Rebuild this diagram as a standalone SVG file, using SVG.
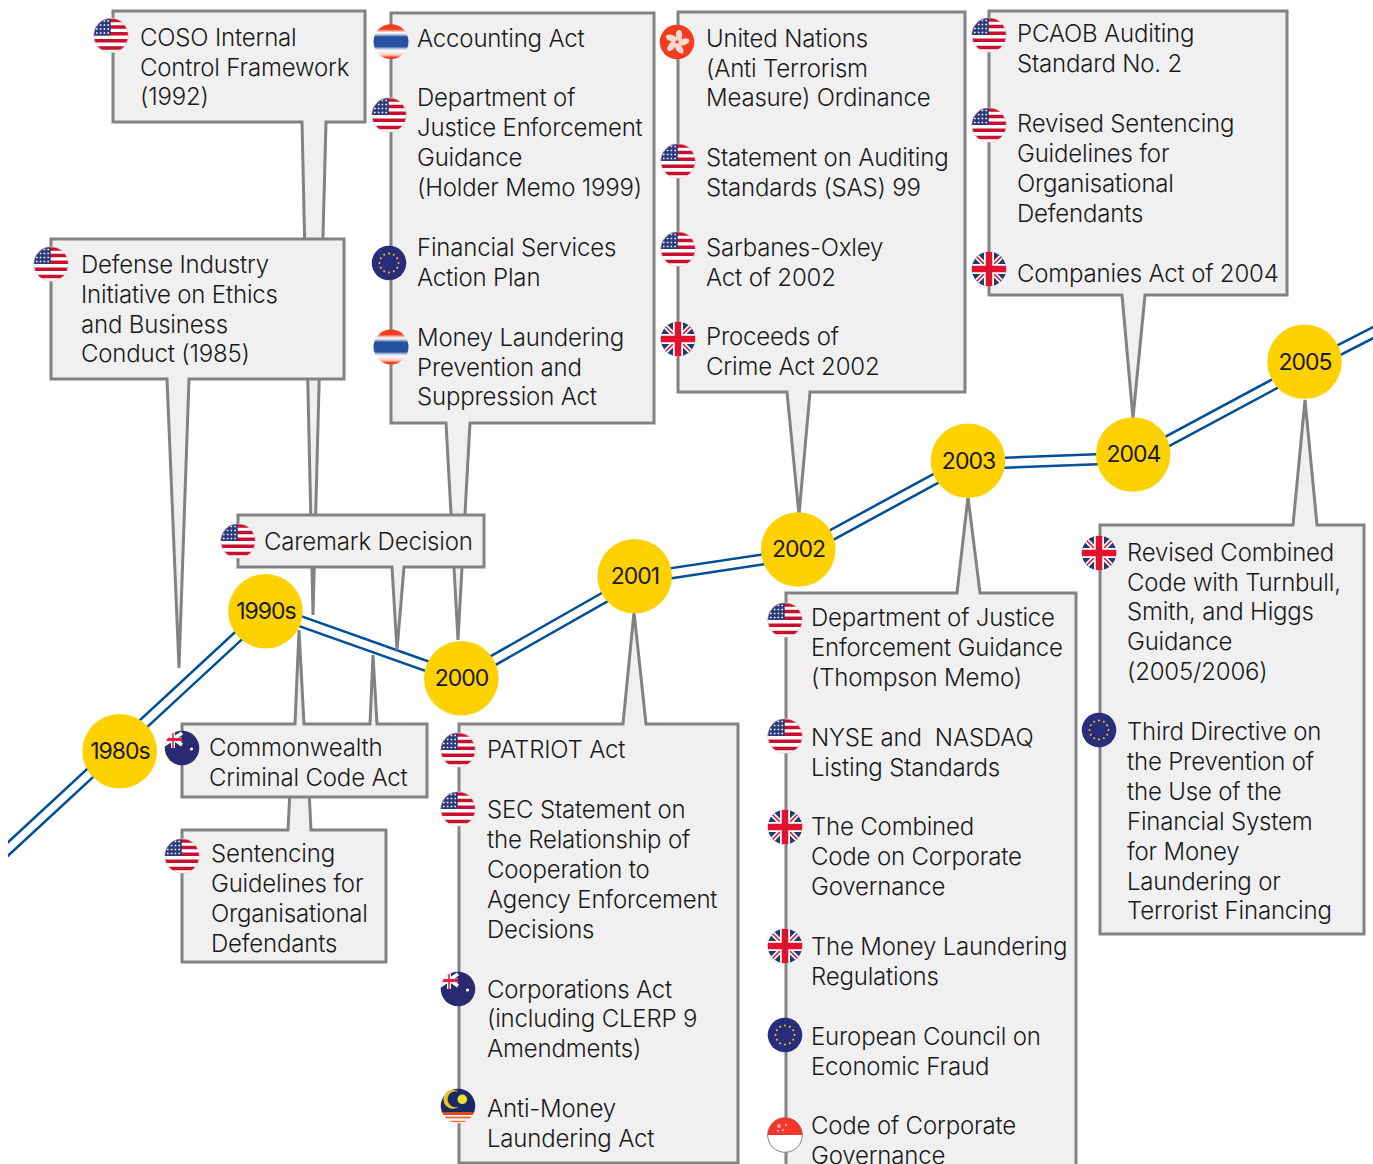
<svg xmlns="http://www.w3.org/2000/svg" width="1373" height="1164" viewBox="0 0 1373 1164">
<style>
.box{fill:#f0f0f0;stroke:#808285;stroke-width:3;stroke-linejoin:miter}
.t{font-family:"Inter","Liberation Sans",sans-serif;font-weight:300;font-size:24px;letter-spacing:-.18px;fill:#1a1a1a}
.yr{font-family:"Inter","Liberation Sans",sans-serif;font-weight:400;font-size:23px;letter-spacing:-1px;fill:#1a1a1a;text-anchor:middle}
.dot{fill:#ffd100}
.out{fill:none;stroke:#004f97;stroke-width:12.5}
.inn{fill:none;stroke:#fff;stroke-width:7.5}
</style>
<defs>
<clipPath id="c"><circle r="17.3"/></clipPath>
<clipPath id="pg"><rect x="8" y="0" width="1365" height="1164"/></clipPath>
<linearGradient id="thg" x1="0" y1="0" x2="0" y2="1"><stop offset="0" stop-color="#f53c1e"/><stop offset=".14" stop-color="#f53c1e"/><stop offset=".24" stop-color="#fff"/><stop offset=".3" stop-color="#b8c8e4"/><stop offset=".36" stop-color="#26529f"/><stop offset=".64" stop-color="#26529f"/><stop offset=".7" stop-color="#b8c8e4"/><stop offset=".76" stop-color="#fff"/><stop offset=".88" stop-color="#fbcabd"/><stop offset=".95" stop-color="#f53c1e"/></linearGradient>
<g id="us"><g clip-path="url(#c)"><rect x="-17.3" y="-17.3" width="34.6" height="34.6" fill="#fff"/>
<path d="M-18-15H18M-18-8.5H18M-18-1.7H18M-18 5.3H18M-18 12.5H18" stroke="#c8102e" stroke-width="3.4"/>
<rect x="-17.3" y="-17.3" width="17" height="17.3" fill="#2a3a7c"/>
<path d="M-15-14.5H0M-15-10.5H0M-15-6.5H0M-15-2.5H0" stroke="#fff" stroke-width="1.6" stroke-dasharray="1.6 2.2"/></g><circle r="17.2" fill="none" stroke="#e8b8c4" stroke-width=".6"/></g>
<g id="uk"><g clip-path="url(#c)"><rect x="-17.3" y="-17.3" width="34.6" height="34.6" fill="#1b3c74"/>
<path d="M-17-17 17 17M17-17-17 17" stroke="#fff" stroke-width="5"/>
<path d="M-17-17 17 17M17-17-17 17" stroke="#e2112d" stroke-width="1.6"/>
<path d="M0-18V18M-18 0H18" stroke="#fff" stroke-width="10"/>
<path d="M0-18V18M-18 0H18" stroke="#e2112d" stroke-width="6.5"/></g></g>
<g id="eu"><circle r="17.3" fill="#2a2e7a"/>
<g fill="#f4d020"><circle cx="0" cy="-9.5" r="1"/><circle cx="4.8" cy="-8.2" r="1"/><circle cx="8.2" cy="-4.8" r="1"/><circle cx="9.5" cy="0" r="1"/><circle cx="8.2" cy="4.8" r="1"/><circle cx="4.8" cy="8.2" r="1"/><circle cx="0" cy="9.5" r="1"/><circle cx="-4.8" cy="8.2" r="1"/><circle cx="-8.2" cy="4.8" r="1"/><circle cx="-9.5" cy="0" r="1"/><circle cx="-8.2" cy="-4.8" r="1"/><circle cx="-4.8" cy="-8.2" r="1"/></g></g>
<g id="th"><circle r="17.5" fill="url(#thg)"/></g>
<g id="hk"><circle r="17.3" fill="#f53c1e"/><g fill="#fbd8d0"><ellipse cx="2" cy="-6.5" rx="3.2" ry="5.8"/><ellipse cx="2" cy="-6.5" rx="3.2" ry="5.8" transform="rotate(72)"/><ellipse cx="2" cy="-6.5" rx="3.2" ry="5.8" transform="rotate(144)"/><ellipse cx="2" cy="-6.5" rx="3.2" ry="5.8" transform="rotate(216)"/><ellipse cx="2" cy="-6.5" rx="3.2" ry="5.8" transform="rotate(288)"/></g></g>
<g id="au"><circle r="17.3" fill="#2a2a72"/><g clip-path="url(#c)"><path d="M-18-16 0-3M-18-3 0-15" stroke="#fff" stroke-width="3.4"/><path d="M-18-8.5H0M-9-18V0" stroke="#fff" stroke-width="4"/><path d="M-18-8.5H0" stroke="#e2213d" stroke-width="2.8"/><path d="M-9-18V0" stroke="#e2213d" stroke-width="1.6"/></g><circle cx="9.5" cy="1" r="1.6" fill="#fff"/></g>
<g id="my"><g clip-path="url(#c)"><rect x="-18" y="-18" width="36" height="24" fill="#1a2a66"/><rect x="-18" y="6" width="36" height="12" fill="#fff"/><path d="M-18 7.5H18" stroke="#d8481c" stroke-width="3"/><path d="M-18 11.5H18" stroke="#f0703c" stroke-width="2.2"/><path d="M-18 15.5H18" stroke="#f0703c" stroke-width="1.6"/></g><path d="M1-14A9.5 9.5 0 1 0 1 .5 8 8 0 1 1 1-14Z" fill="#e5c62a"/><circle cx="4.3" cy="-6.7" r="4.8" fill="#f0de30"/></g>
<g id="sg"><circle r="17.3" fill="#fff" stroke="#808285" stroke-width="1"/><path d="M-17.3 0A17.3 17.3 0 0 1 17.3 0Z" fill="#f5352a"/><g fill="#fbb0a8"><circle cx="-6" cy="-9" r="2"/><circle cx="-2" cy="-5" r="1.2"/><circle cx="1" cy="-10" r="1.2"/><circle cx="-7" cy="-4" r="1.2"/></g></g>
</defs>

<g id="connectors" clip-path="url(#pg)">
<polyline class="out" points="0,856.4 267,609.4 461.5,678.5 638,578.2 796,554.4 961.5,464.4 1136.7,457.8 1304,368 1385,326.5"/>
<polyline class="inn" points="0,856.4 267,609.4 461.5,678.5 638,578.2 796,554.4 961.5,464.4 1136.7,457.8 1304,368 1385,326.5"/>
</g>

<g id="coso"><path class="box" d="M113 11H365V122H326L313 615 302 122H113Z"/><use href="#us" x="111" y="35.500"/>
<text class="t"><tspan x="140" y="46">COSO Internal</tspan><tspan x="140" y="76">Control Framework</tspan><tspan x="140" y="105">(1992)</tspan></text></g>

<g id="accounting"><path class="box" d="M391 13H654V423H470L458 640 446 423H391Z"/><use href="#th" x="391" y="41.700"/><use href="#us" x="389" y="115"/><use href="#eu" x="389" y="263"/><use href="#th" x="391" y="347"/>
<text class="t"><tspan x="417" y="47">Accounting Act</tspan><tspan x="417" y="106">Department of</tspan><tspan x="417" y="136">Justice Enforcement</tspan><tspan x="417" y="166">Guidance</tspan><tspan x="417" y="196">(Holder Memo 1999)</tspan><tspan x="417" y="256">Financial Services</tspan><tspan x="417" y="286">Action Plan</tspan><tspan x="417" y="346">Money Laundering</tspan><tspan x="417" y="376">Prevention and</tspan><tspan x="417" y="405">Suppression Act</tspan></text></g>

<g id="defense"><path class="box" d="M51 239H344V379H189L179 668 167 379H51Z"/><use href="#us" x="51" y="264"/>
<text class="t"><tspan x="81" y="273">Defense Industry</tspan><tspan x="81" y="303">Initiative on Ethics</tspan><tspan x="81" y="333">and Business</tspan><tspan x="81" y="362">Conduct (1985)</tspan></text></g>

<g id="caremark"><path class="box" d="M238 515H484V567H404L397 650 392 567H238Z"/><use href="#us" x="238" y="541"/>
<text class="t"><tspan x="264" y="550">Caremark Decision</tspan></text></g>

<g id="sentencing"><path class="box" d="M182 830H288L290 790H309L311 830H386V962H182Z"/><use href="#us" x="182" y="856"/>
<text class="t"><tspan x="211" y="862">Sentencing</tspan><tspan x="211" y="892">Guidelines for</tspan><tspan x="211" y="922">Organisational</tspan><tspan x="211" y="952">Defendants</tspan></text></g>

<g id="commonwealth"><path class="box" d="M182 724H295L299 630 304 724H370L373 655 377 724H427V797H182Z"/><use href="#au" x="182" y="748"/>
<text class="t"><tspan x="209" y="756">Commonwealth</tspan><tspan x="209" y="786">Criminal Code Act</tspan></text></g>

<g id="patriot"><path class="box" d="M459 724H623L634 612 646 724H738V1163H459Z"/><use href="#us" x="458" y="750"/><use href="#us" x="458" y="809"/><use href="#au" x="458" y="989"/><use href="#my" x="458" y="1106"/>
<text class="t"><tspan x="487" y="758">PATRIOT Act</tspan><tspan x="487" y="818">SEC Statement on</tspan><tspan x="487" y="848">the Relationship of</tspan><tspan x="487" y="878">Cooperation to</tspan><tspan x="487" y="908">Agency Enforcement</tspan><tspan x="487" y="938">Decisions</tspan><tspan x="487" y="998">Corporations Act</tspan><tspan x="487" y="1027">(including CLERP 9</tspan><tspan x="487" y="1057">Amendments)</tspan><tspan x="487" y="1117">Anti-Money</tspan><tspan x="487" y="1147">Laundering Act</tspan></text></g>

<g id="un"><path class="box" d="M678 12H965V392H810L799 515 787 392H678Z"/><use href="#hk" x="677" y="42"/><use href="#us" x="678" y="161"/><use href="#us" x="678" y="249"/><use href="#uk" x="678" y="339"/>
<text class="t"><tspan x="706" y="47">United Nations</tspan><tspan x="706" y="77">(Anti Terrorism</tspan><tspan x="706" y="106">Measure) Ordinance</tspan><tspan x="706" y="166">Statement on Auditing</tspan><tspan x="706" y="196">Standards (SAS) 99</tspan><tspan x="706" y="256">Sarbanes-Oxley</tspan><tspan x="706" y="286">Act of 2002</tspan><tspan x="706" y="345">Proceeds of</tspan><tspan x="706" y="375">Crime Act 2002</tspan></text></g>

<g id="doj"><path class="box" d="M786 1170V593H957L968 497 980 593H1076V1170"/><use href="#us" x="785" y="620"/><use href="#us" x="785" y="736"/><use href="#uk" x="785" y="827"/><use href="#uk" x="785" y="946"/><use href="#eu" x="785" y="1035"/><use href="#sg" x="785" y="1135"/>
<text class="t" xml:space="preserve"><tspan x="811" y="626">Department of Justice</tspan><tspan x="811" y="656">Enforcement Guidance</tspan><tspan x="811" y="686">(Thompson Memo)</tspan><tspan x="811" y="746">NYSE and  NASDAQ</tspan><tspan x="811" y="776">Listing Standards</tspan><tspan x="811" y="835">The Combined</tspan><tspan x="811" y="865">Code on Corporate</tspan><tspan x="811" y="895">Governance</tspan><tspan x="811" y="955">The Money Laundering</tspan><tspan x="811" y="985">Regulations</tspan><tspan x="811" y="1045">European Council on</tspan><tspan x="811" y="1075">Economic Fraud</tspan><tspan x="811" y="1134">Code of Corporate</tspan><tspan x="811" y="1164">Governance</tspan></text></g>

<g id="pcaob"><path class="box" d="M989 11H1287V295H1145L1133 418 1122 295H989Z"/><use href="#us" x="989" y="35"/><use href="#us" x="989" y="125"/><use href="#uk" x="989" y="269"/>
<text class="t"><tspan x="1017" y="42">PCAOB Auditing</tspan><tspan x="1017" y="72">Standard No. 2</tspan><tspan x="1017" y="132">Revised Sentencing</tspan><tspan x="1017" y="162">Guidelines for</tspan><tspan x="1017" y="192">Organisational</tspan><tspan x="1017" y="222">Defendants</tspan><tspan x="1017" y="282">Companies Act of 2004</tspan></text></g>

<g id="revised"><path class="box" d="M1100 525H1293L1305 400 1317 525H1364V934H1100Z"/><use href="#uk" x="1099" y="553"/><use href="#eu" x="1099" y="730"/>
<text class="t"><tspan x="1127" y="561">Revised Combined</tspan><tspan x="1127" y="591">Code with Turnbull,</tspan><tspan x="1127" y="620">Smith, and Higgs</tspan><tspan x="1127" y="650">Guidance</tspan><tspan x="1127" y="680">(2005/2006)</tspan><tspan x="1127" y="740">Third Directive on</tspan><tspan x="1127" y="770">the Prevention of</tspan><tspan x="1127" y="800">the Use of the</tspan><tspan x="1127" y="830">Financial System</tspan><tspan x="1127" y="860">for Money</tspan><tspan x="1127" y="890">Laundering or</tspan><tspan x="1127" y="919">Terrorist Financing</tspan></text></g>

<g id="y1980s"><circle class="dot" cx="119.7" cy="751.2" r="37.3"/><text class="yr" x="120" y="759">1980s</text></g>
<g id="y1990s"><circle class="dot" cx="265.5" cy="611.2" r="37.3"/><text class="yr" x="266" y="619">1990s</text></g>
<g id="y2000"><circle class="dot" cx="461.3" cy="678.3" r="37.3"/><text class="yr" x="461.500" y="686">2000</text></g>
<g id="y2001"><circle class="dot" cx="634.7" cy="576.2" r="37.3"/><text class="yr" x="635" y="584">2001</text></g>
<g id="y2002"><circle class="dot" cx="798.2" cy="549.500" r="37.3"/><text class="yr" x="798.500" y="557">2002</text></g>
<g id="y2003"><circle class="dot" cx="968" cy="460.7" r="37.3"/><text class="yr" x="968.500" y="468.500">2003</text></g>
<g id="y2004"><circle class="dot" cx="1133.2" cy="454.500" r="37.3"/><text class="yr" x="1133.500" y="462">2004</text></g>
<g id="y2005"><circle class="dot" cx="1304.500" cy="361.800" r="37.3"/><text class="yr" x="1305" y="369.500">2005</text></g>
</svg>
